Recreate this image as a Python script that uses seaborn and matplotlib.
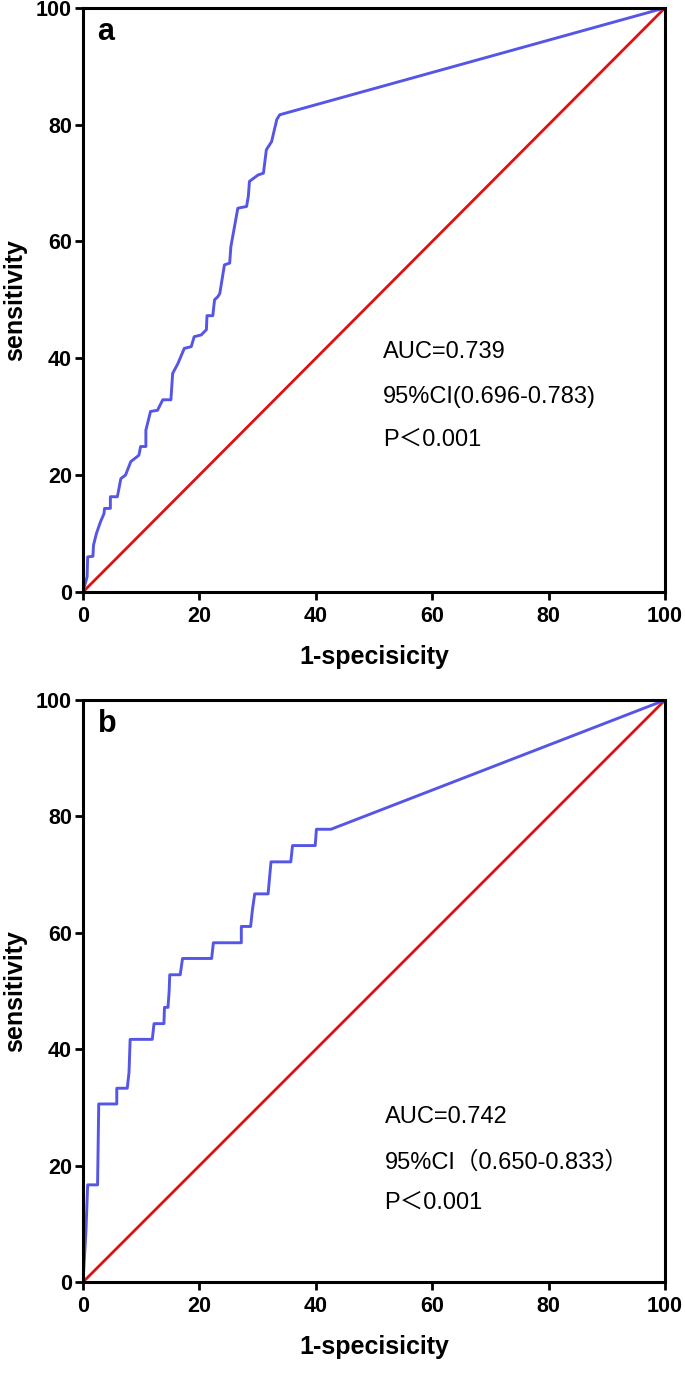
import matplotlib
matplotlib.use("Agg")
import matplotlib.pyplot as plt
import seaborn as sns
import pandas as pd

# Panel a ROC curve (1-specificity %, sensitivity %)
a_fpr = [0, 0.7, 0.8, 1.7, 1.8, 2.3, 3.0, 3.6, 3.7, 4.7, 4.7, 5.9, 6.5, 7.3, 8.2, 9.6,
         9.9, 10.8, 10.8, 11.6, 12.8, 13.7, 15.1, 15.4, 16.3, 17.4, 18.6, 19.1, 20.3,
         21.2, 21.3, 22.3, 22.6, 23.2, 23.5, 24.3, 25.2, 25.4, 26.6, 28.1, 28.4, 28.6,
         30.1, 31.0, 31.5, 32.4, 33.3, 33.8, 100]
a_tpr = [0, 2.6, 6.0, 6.1, 8.0, 10.0, 12.0, 13.4, 14.3, 14.3, 16.3, 16.3, 19.4, 20.0,
         22.3, 23.4, 24.9, 24.9, 27.7, 30.9, 31.1, 32.9, 32.9, 37.4, 39.1, 41.7, 42.0,
         43.7, 44.0, 44.9, 47.3, 47.3, 50.0, 50.6, 51.1, 56.0, 56.3, 59.1, 65.7, 66.0,
         67.7, 70.3, 71.4, 71.7, 75.7, 77.1, 80.9, 81.7, 100]

# Panel b ROC curve
b_fpr = [0, 0.5, 0.8, 2.5, 2.7, 5.8, 5.8, 7.6, 7.9, 8.1, 11.9, 12.2, 13.9, 14.0, 14.6,
         14.8, 14.9, 16.7, 17.1, 22.1, 22.4, 27.2, 27.2, 28.8, 29.1, 29.5, 31.8, 32.3,
         35.7, 36.0, 39.9, 40.1, 42.6, 100]
b_tpr = [0, 8.7, 16.7, 16.7, 30.6, 30.6, 33.3, 33.3, 36.0, 41.7, 41.7, 44.4, 44.4, 47.2,
         47.2, 50.0, 52.8, 52.8, 55.6, 55.6, 58.3, 58.3, 61.1, 61.1, 63.9, 66.7, 66.7,
         72.2, 72.2, 75.0, 75.0, 77.8, 77.8, 100]

diag = [0, 100]
ticks = [0, 20, 40, 60, 80, 100]
panel_labels = ["a", "b"]
stats_a = ["AUC=0.739", "95%CI(0.696-0.783)", "P＜0.001"]
stats_b = ["AUC=0.742", "95%CI（0.650-0.833）", "P＜0.001"]

sns.set_theme(style="white")
plt.rcParams['font.family'] = ['Liberation Sans', 'Noto Sans CJK SC', 'DejaVu Sans']
plt.rcParams['text.color'] = 'black'
plt.rcParams['axes.labelcolor'] = 'black'
plt.rcParams['xtick.color'] = 'black'
plt.rcParams['ytick.color'] = 'black'

BLUE = "#5656e6"
RED = "#e01010"

fig = plt.figure(figsize=(6.85, 13.83), dpi=100)
ax_a = fig.add_axes([0.1212, 0.5720, 0.8496, 0.4223])
ax_b = fig.add_axes([0.1212, 0.0730, 0.8496, 0.4208])

panels = [
    (ax_a, a_fpr, a_tpr, panel_labels[0], stats_a, [41.1, 33.4, 26.0], 51.5),
    (ax_b, b_fpr, b_tpr, panel_labels[1], stats_b, [28.4, 20.6, 13.7], 51.8),
]

for ax, fpr, tpr, lab, stats, ys, xs in panels:
    df = pd.DataFrame({"x": fpr, "y": tpr})
    dd = pd.DataFrame({"x": diag, "y": diag})
    sns.lineplot(data=dd, x="x", y="y", ax=ax, color=RED, lw=2.0, sort=False,
                 estimator=None)
    sns.lineplot(data=df, x="x", y="y", ax=ax, color=BLUE, lw=2.1, sort=False,
                 estimator=None)
    ax.set_xlim(0, 100)
    ax.set_ylim(0, 100)
    ax.set_xticks(ticks)
    ax.set_yticks(ticks)
    ax.set_xticklabels([str(t) for t in ticks], fontweight="bold", fontsize=15.5)
    ax.set_yticklabels([str(t) for t in ticks], fontweight="bold", fontsize=15.5)
    ax.tick_params(axis="both", direction="out", length=6, width=2, pad=2,
                   bottom=True, left=True, colors="black")
    ax.tick_params(axis="x", pad=4)
    for s in ax.spines.values():
        s.set_linewidth(2.2)
        s.set_color("black")
    ax.set_xlabel("1-specisicity", fontweight="bold", fontsize=18, labelpad=13)
    ax.set_ylabel("sensitivity", fontweight="bold", fontsize=18, labelpad=6)
    ax.text(0.025, 0.985, lab, transform=ax.transAxes, fontweight="bold",
            fontsize=22, ha="left", va="top")
    for s, yv in zip(stats, ys):
        ax.text(xs, yv, s, fontsize=17, ha="left", va="center")

fig.savefig("out.png", dpi=100)
